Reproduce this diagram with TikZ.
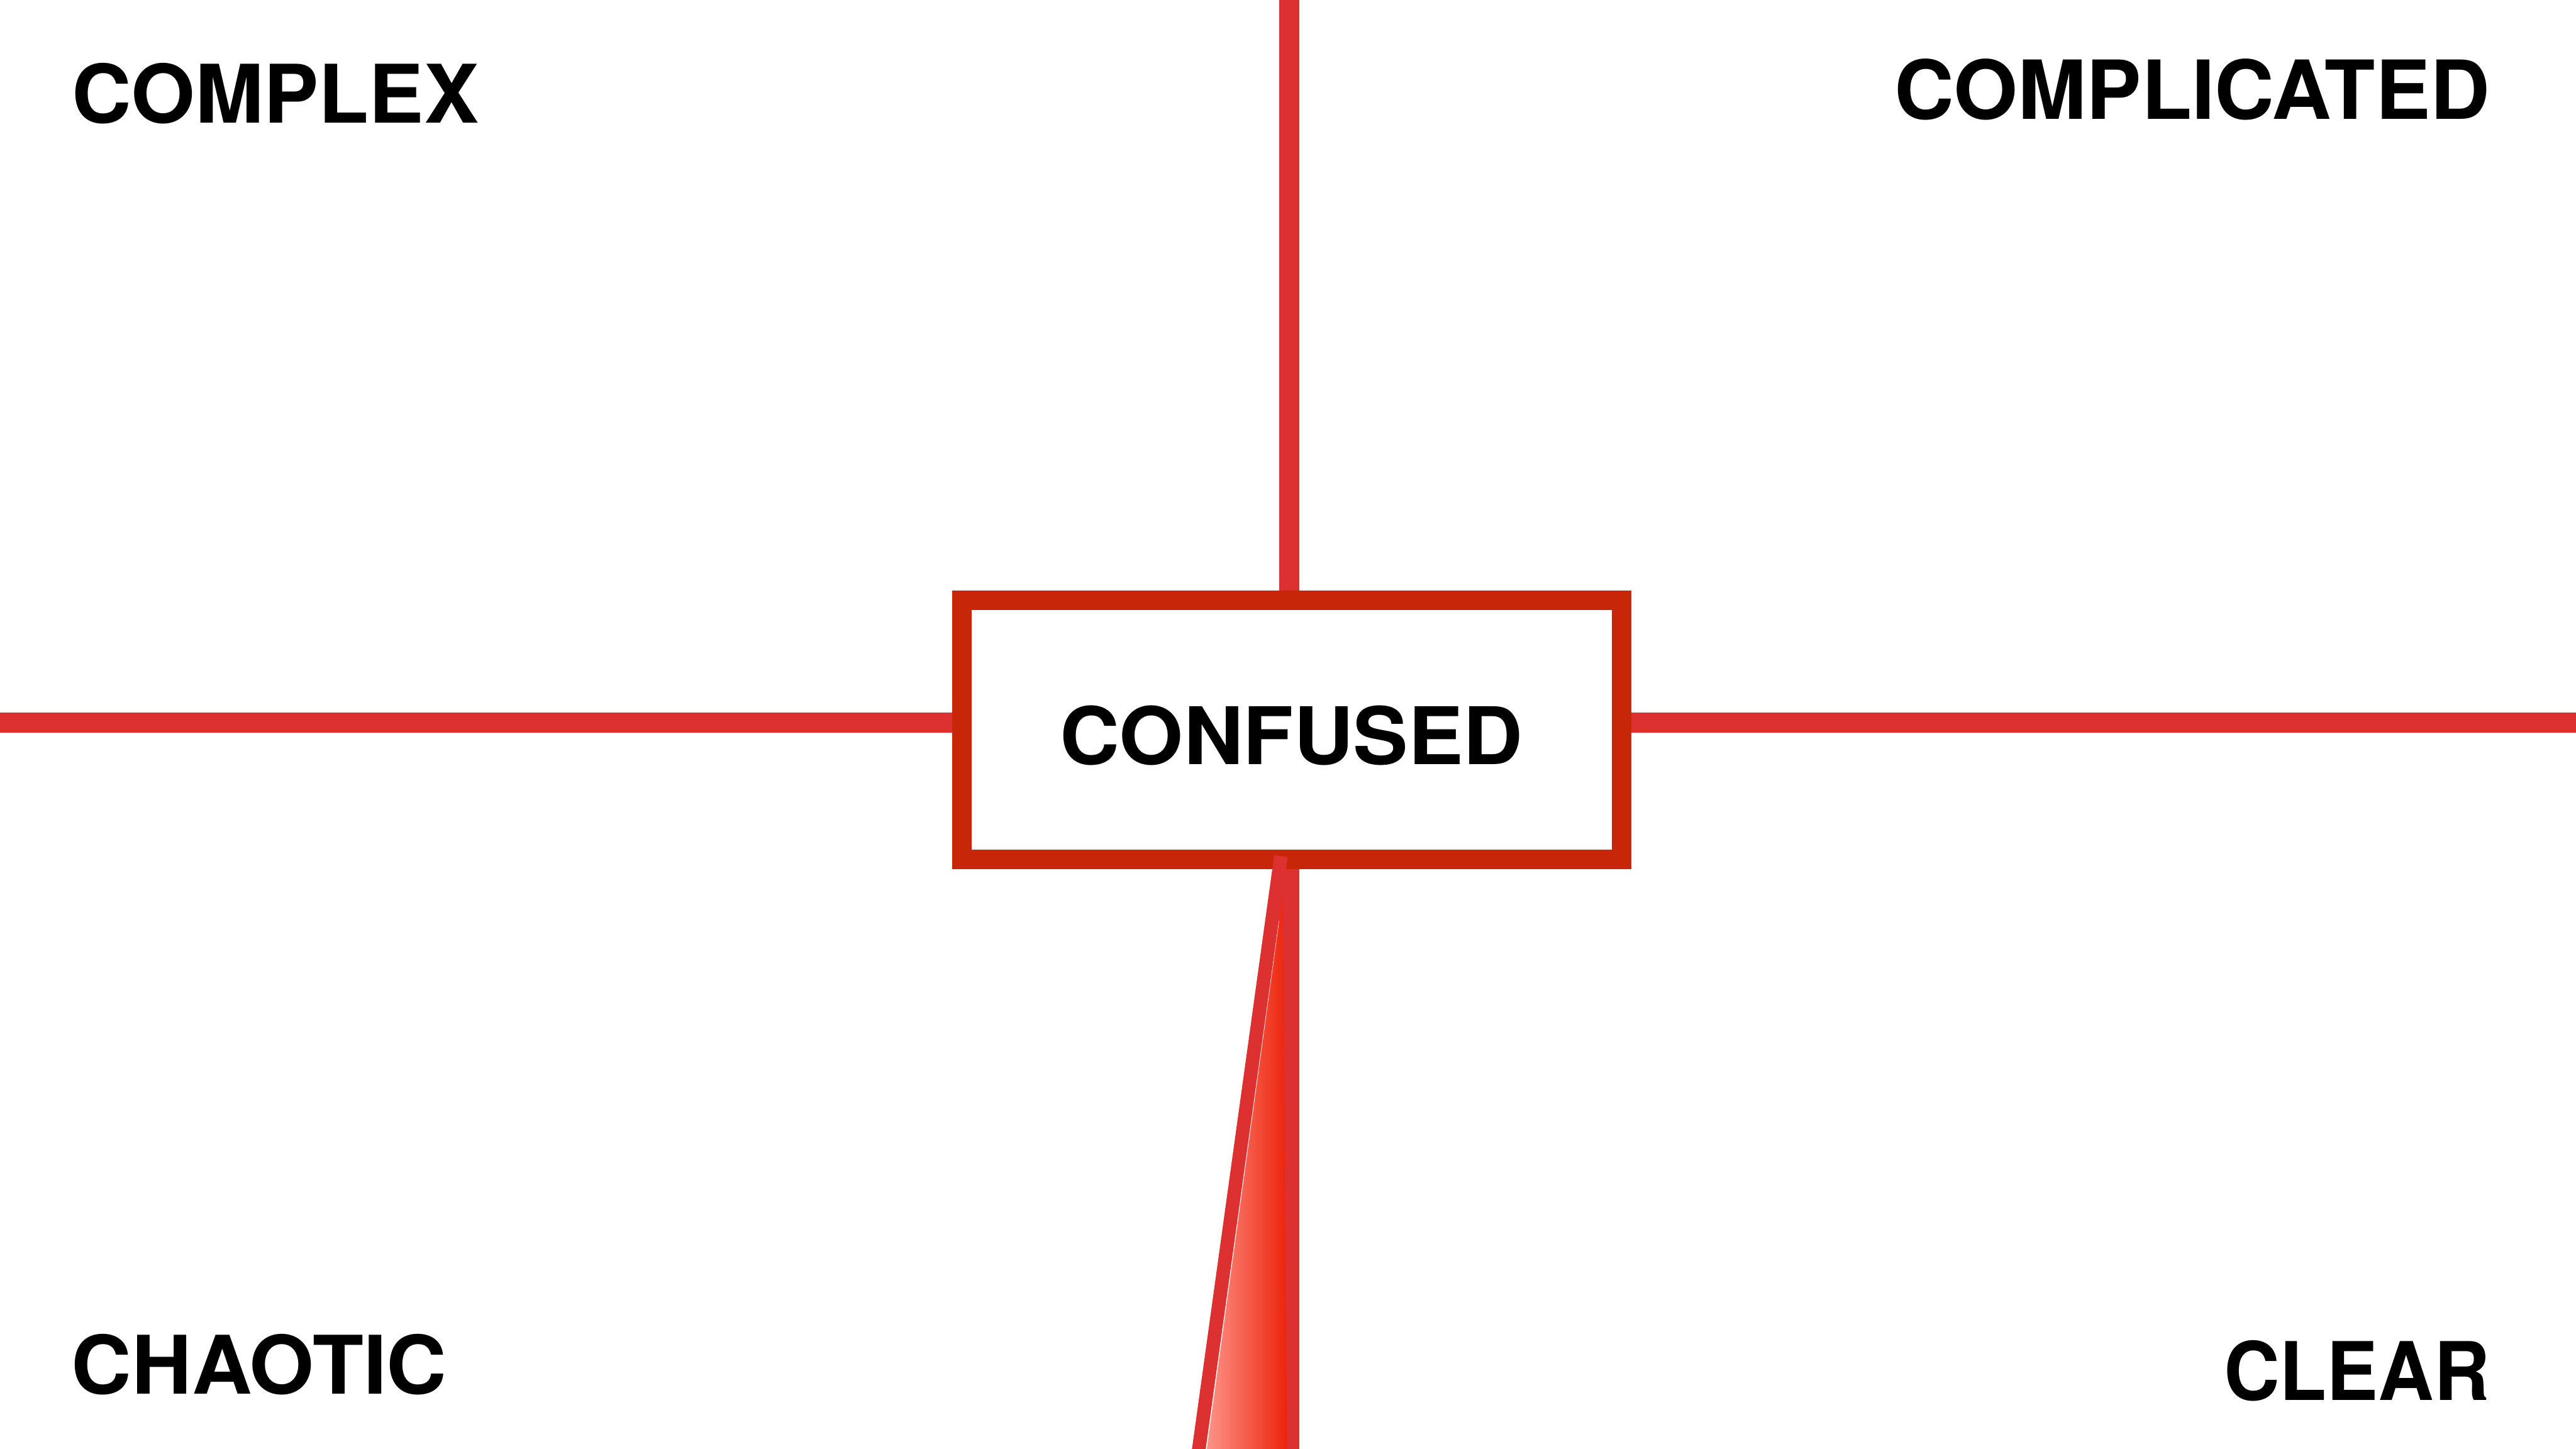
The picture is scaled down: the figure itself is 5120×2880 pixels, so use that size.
\documentclass[tikz,border=0pt]{standalone}
\usepackage{fontspec}
\setmainfont{TeX Gyre Heros}
\usepackage{graphicx}
\definecolor{axisred}{RGB}{221,48,48}
\definecolor{boxred}{RGB}{200,38,8}
\definecolor{conepink}{RGB}{255,158,148}
\definecolor{conered}{RGB}{237,36,12}
\begin{document}
\begin{tikzpicture}[x=0.1pt,y=-0.1pt,
  axis/.style={draw=axisred,line width=4pt},
  lbl/.style={inner sep=0pt,outer sep=0pt,font=\bfseries},
  framebox/.style={draw=boxred,fill=white,line width=3.8pt,minimum width=131.1pt,minimum height=51.5pt,inner sep=0pt}]
\useasboundingbox (0,0) rectangle (5120,2880);
\fill[white] (0,0) rectangle (5120,2880);
% axes end points
\coordinate (top) at (2562,0);
\coordinate (bot) at (2562,2880);
\coordinate (lft) at (0,1436);
\coordinate (rgt) at (5120,1436);
% central box
\node[framebox] (box) at (2567.5,1450.5) {};
\draw[axis] (top) -- (top |- box.north);
\draw[axis] (box.south -| bot) -- (bot);
\draw[axis] (lft) -- (lft -| box.west);
\draw[axis] (rgt -| box.east) -- (rgt);
\node[lbl,anchor=north] (confused) at (2567,1402) {\resizebox{92pt}{11.7pt}{CONFUSED}};
% corner labels
\node[lbl,anchor=north west] (complex) at (143,125) {\resizebox{80.9pt}{11.9pt}{COMPLEX}};
\node[lbl,anchor=north west] (complicated) at (3765,117) {\resizebox{118.4pt}{12pt}{COMPLICATED}};
\node[lbl,anchor=north west] (chaotic) at (142,2652) {\resizebox{74.6pt}{11.9pt}{CHAOTIC}};
\node[lbl,anchor=north west] (clear) at (4420,2664) {\resizebox{52.9pt}{11.9pt}{CLEAR}};
% cone
\coordinate (apex) at (2546,1701.5);
\coordinate (coneend) at (2380,2900);
\shade[left color=conepink,right color=conered] (2540,1703) -- (2549,1703) -- (2558,2880) -- (2383,2880) -- cycle;
\draw[white,line width=0.3pt] (2541,1830) -- (2397,2880);
\draw[draw=axisred,line width=2.7pt] (apex) -- (coneend);
\end{tikzpicture}
\end{document}
